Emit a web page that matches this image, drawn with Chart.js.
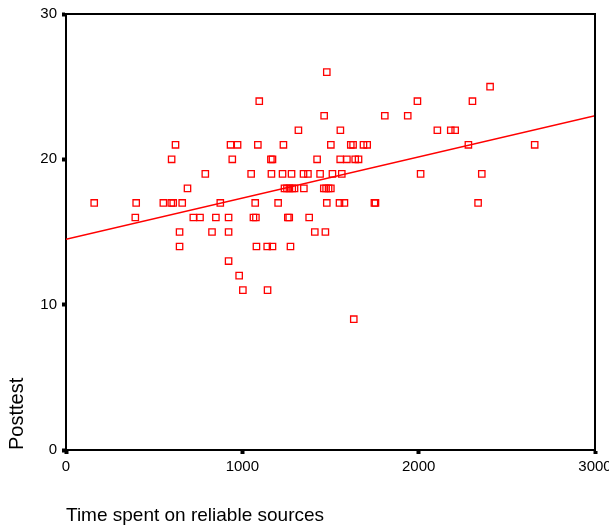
<!DOCTYPE html>
<html>
<head>
<meta charset="utf-8">
<script src="https://cdn.jsdelivr.net/npm/chart.js@4/dist/chart.umd.min.js"></script>
<style>
  html, body { margin: 0; padding: 0; background: #fff; }
  #wrap { width: 609px; height: 527px; }
</style>
</head>
<body>
<div id="wrap"><canvas id="chart" width="609" height="527"></canvas></div>
<script>
// time spent on reliable sources, grouped by posttest score
var timeSpent = [
    160, 398, 552, 597, 608, 659, 875, 1073, 1203, 1479, 1551, 1579, 1749, 1755, 2337,
    393, 722, 760, 850, 922, 1063, 1077, 1258, 1266, 1379,
    644, 828, 922, 1411, 1471,
    644, 1080, 1141, 1171, 1273,
    922,
    982,
    1003, 1143,
    1632,
    689, 1239, 1253, 1267, 1283, 1296, 1349, 1462, 1475, 1489, 1502,
    790, 1050, 1165, 1228, 1279, 1347, 1372, 1441, 1511, 1564, 2011, 2358,
    599, 943, 1162, 1171, 1424, 1555, 1593, 1640, 1659,
    621, 933, 973, 1088, 1233, 1502, 1615, 1628, 1687, 1708, 2282, 2658,
    1318, 1556, 2106, 2182, 2207,
    1464, 1808, 1938,
    1096, 1993, 2305,
    2405,
    1479
];
var posttest = [
    17, 17, 17, 17, 17, 17, 17, 17, 17, 17, 17, 17, 17, 17, 17,
    16, 16, 16, 16, 16, 16, 16, 16, 16, 16,
    15, 15, 15, 15, 15,
    14, 14, 14, 14, 14,
    13,
    12,
    11, 11,
    9,
    18, 18, 18, 18, 18, 18, 18, 18, 18, 18, 18,
    19, 19, 19, 19, 19, 19, 19, 19, 19, 19, 19, 19,
    20, 20, 20, 20, 20, 20, 20, 20, 20,
    21, 21, 21, 21, 21, 21, 21, 21, 21, 21, 21, 21,
    22, 22, 22, 22, 22,
    23, 23, 23,
    24, 24, 24,
    25,
    26
];

// fitted line at both ends
var fitX = [0, 3000];
var fitY = [14.5, 23.0];

var xTicks = [0, 1000, 2000, 3000];
var yTicks = [0, 10, 20, 30];

var RED = '#ff0000';
var FONT = "'Liberation Sans', Arial, sans-serif";

var points = timeSpent.map(function (t, i) { return { x: t, y: posttest[i] }; });
var fit = fitX.map(function (t, i) { return { x: t, y: fitY[i] }; });

// top and right side of the frame
var framePlugin = {
    id: 'frame',
    afterDraw: function (chart) {
        var a = chart.chartArea;
        var ctx = chart.ctx;
        ctx.save();
        ctx.strokeStyle = '#000';
        ctx.lineWidth = 2;
        ctx.beginPath();
        ctx.moveTo(a.left, a.top);
        ctx.lineTo(a.right, a.top);
        ctx.lineTo(a.right, a.bottom);
        ctx.stroke();
        ctx.restore();
    }
};

function plain(v) { return String(v); }

var chart = new Chart(document.getElementById('chart'), {
    type: 'scatter',
    data: {
        datasets: [{
            data: points,
            pointStyle: 'rect',
            pointRadius: 4.5,
            pointBorderWidth: 1.3,
            pointBorderColor: RED,
            pointBackgroundColor: 'rgba(255,255,255,0)',
            showLine: false
        }, {
            type: 'line',
            data: fit,
            borderColor: RED,
            borderWidth: 1.5,
            pointRadius: 0,
            fill: false
        }]
    },
    options: {
        responsive: false,
        animation: false,
        layout: { padding: { top: 14, right: 14, left: 0, bottom: 0 } },
        plugins: {
            legend: { display: false },
            tooltip: { enabled: false }
        },
        scales: {
            x: {
                type: 'linear',
                min: 0,
                max: 3000,
                afterBuildTicks: function (scale) {
                    scale.ticks = xTicks.map(function (v) { return { value: v }; });
                },
                afterFit: function (scale) {
                    scale.height = 77;
                    scale.paddingLeft = 0;
                    scale.paddingRight = 0;
                },
                grid: {
                    display: true,
                    drawOnChartArea: false,
                    drawTicks: true,
                    tickLength: 4,
                    tickWidth: 4,
                    tickColor: '#000'
                },
                border: { display: true, color: '#000', width: 2 },
                ticks: {
                    color: '#000',
                    padding: 4,
                    maxRotation: 0,
                    callback: plain,
                    font: { family: FONT, size: 15 }
                },
                title: {
                    display: true,
                    text: 'Time spent on reliable sources',
                    align: 'start',
                    color: '#000',
                    padding: { top: 0, bottom: 0 },
                    font: { family: FONT, size: 19, lineHeight: 1.2 }
                }
            },
            y: {
                type: 'linear',
                min: 0,
                max: 30,
                afterBuildTicks: function (scale) {
                    scale.ticks = yTicks.map(function (v) { return { value: v }; });
                },
                afterFit: function (scale) {
                    scale.width = 66;
                    scale.paddingTop = 0;
                    scale.paddingBottom = 0;
                },
                grid: {
                    display: true,
                    drawOnChartArea: false,
                    drawTicks: true,
                    tickLength: 4,
                    tickWidth: 4,
                    tickColor: '#000'
                },
                border: { display: true, color: '#000', width: 2 },
                ticks: {
                    color: '#000',
                    padding: 5,
                    callback: plain,
                    font: { family: FONT, size: 15 }
                },
                title: {
                    display: true,
                    text: 'Posttest',
                    align: 'start',
                    color: '#000',
                    padding: { top: 5, bottom: 0 },
                    font: { family: FONT, size: 20, lineHeight: 1.2 }
                }
            }
        }
    },
    plugins: [framePlugin]
});
</script>
</body>
</html>
